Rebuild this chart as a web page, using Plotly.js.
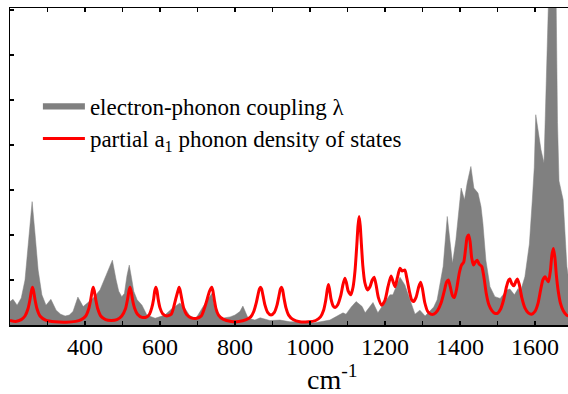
<!DOCTYPE html>
<html>
<head>
<meta charset="utf-8">
<script src="https://cdn.plot.ly/plotly-3.0.1.min.js"></script>
<style>html,body{margin:0;padding:0;background:#fff}#chart{width:568px;height:394px}</style>
</head>
<body>
<div id="chart"></div>
<script>
// Electron-phonon coupling (grey filled area), wavenumber in cm^-1
const couplingX = [200,208,219,230,240,251,259,267,275,285,296,309,323,335,347,358,368,381,395,408,422,440,458,473,483,490,498,505,512,518,524,530,539,552,565,587,613,630,653,668,680,696,715,728,738,747,765,787,800,813,821,835,853,867,893,920,947,973,1013,1053,1080,1088,1096,1110,1123,1139,1147,1158,1168,1181,1200,1213,1221,1232,1240,1253,1267,1280,1293,1307,1315,1330,1339,1355,1366,1373,1380,1389,1403,1412,1419,1429,1437,1448,1456,1461,1469,1480,1493,1507,1525,1533,1545,1555,1560,1573,1585,1593,1598,1602,1610,1616,1624,1630,1636,1642,1650,1656,1660,1664,1675,1685,1690];
const couplingY = [0.52,0.57,0.44,0.6,1.0,2.0,2.74,2.0,1.22,0.67,0.44,0.57,0.33,0.24,0.2,0.22,0.3,0.62,0.41,0.5,0.6,0.78,1.15,1.44,1.0,0.75,0.63,0.7,1.1,1.33,1.05,0.75,0.56,0.44,0.22,0.15,0.22,0.35,0.49,0.35,0.2,0.15,0.41,0.56,0.7,0.33,0.15,0.18,0.22,0.3,0.42,0.15,0.11,0.16,0.1,0.11,0.07,0.07,0.05,0.11,0.24,0.27,0.24,0.4,0.52,0.41,0.27,0.4,0.5,0.27,0.52,0.67,0.67,0.9,1.06,0.89,0.56,0.24,0.33,0.2,0.27,0.4,0.56,1.3,2.41,1.82,1.37,1.89,3.04,2.78,3.15,3.52,3.04,2.93,2.63,2.26,1.44,0.85,0.63,0.59,0.78,0.8,0.67,0.81,0.71,1.07,1.8,2.8,3.5,4.67,4.2,3.89,3.6,5.5,7.5,9.0,9.0,7.5,4.5,3.2,2.78,1.3,1.0];

// Partial a1 phonon density of states (red line)
const dosX = [200,215,230,240,248,253,257,260,263,267,272,280,295,320,350,375,390,402,410,415,419,422,425,429,434,442,455,470,485,498,508,513,517,520,523,527,532,540,552,565,572,578,583,586,589,592,595,600,607,618,630,636,642,648,651,654,658,663,671,683,698,710,718,725,732,738,741,745,749,756,768,790,810,830,842,850,857,861,865,868,871,875,880,887,896,905,912,917,921,924,927,931,936,943,955,973,995,1015,1028,1036,1042,1046,1049,1052,1056,1062,1067,1074,1082,1088,1093,1097,1102,1109,1115,1120,1125,1128,1131,1134,1137,1141,1146,1153,1160,1166,1171,1176,1182,1191,1200,1208,1216,1222,1227,1233,1240,1246,1253,1258,1265,1271,1276,1283,1290,1295,1300,1306,1314,1322,1330,1340,1350,1358,1364,1369,1374,1380,1385,1391,1398,1404,1410,1415,1419,1423,1427,1431,1436,1441,1446,1451,1458,1464,1470,1477,1485,1493,1500,1508,1516,1524,1530,1533,1538,1544,1549,1553,1558,1565,1573,1582,1591,1600,1608,1615,1621,1627,1632,1636,1641,1645,1649,1653,1657,1662,1668,1675,1684,1690];
const dosY = [0.10,0.08,0.12,0.2,0.36,0.55,0.75,0.84,0.75,0.55,0.36,0.2,0.11,0.07,0.06,0.08,0.12,0.2,0.36,0.55,0.75,0.84,0.75,0.55,0.36,0.2,0.12,0.1,0.12,0.2,0.36,0.55,0.75,0.84,0.75,0.55,0.38,0.24,0.17,0.18,0.24,0.38,0.58,0.76,0.84,0.76,0.58,0.38,0.25,0.2,0.24,0.38,0.58,0.76,0.84,0.76,0.58,0.38,0.23,0.16,0.15,0.2,0.36,0.55,0.75,0.84,0.76,0.55,0.37,0.22,0.13,0.08,0.08,0.12,0.18,0.3,0.5,0.66,0.8,0.84,0.8,0.64,0.44,0.28,0.22,0.28,0.44,0.64,0.8,0.84,0.78,0.58,0.38,0.22,0.12,0.07,0.07,0.1,0.18,0.32,0.55,0.78,0.9,0.8,0.58,0.42,0.39,0.45,0.65,0.9,1.04,0.94,0.75,0.67,0.85,1.2,1.8,2.2,2.41,2.2,1.8,1.3,0.95,0.78,0.85,1.0,1.06,0.9,0.62,0.44,0.55,0.85,1.09,0.95,0.85,1.05,1.26,1.2,1.22,1.05,0.75,0.56,0.52,0.62,0.85,0.95,0.8,0.5,0.3,0.24,0.24,0.32,0.5,0.75,0.95,1.0,0.85,0.65,0.61,0.8,1.15,1.33,1.4,1.7,1.95,2.0,1.85,1.5,1.33,1.4,1.44,1.35,1.3,1.05,0.7,0.45,0.32,0.26,0.26,0.35,0.55,0.85,1.0,1.02,0.92,0.87,0.97,1.02,0.9,0.6,0.38,0.27,0.24,0.3,0.48,0.78,1.0,1.07,1.0,0.96,1.2,1.55,1.7,1.5,1.1,0.75,0.48,0.32,0.22,0.2];

const xTickVals = [400,600,800,1000,1200,1400,1600];
const xTickText = ['400','600','800','1000','1200','1400','1600'];
const xMinorTickVals = [300,500,700,900,1100,1300,1500];
const yTickVals = [1,2,3,4,5,6,7];
const seriesNames = ['electron-phonon coupling \u03bb', 'partial a<sub>1</sub> phonon density of states'];
const axisTitle = 'cm<sup>-1</sup>';

const traces = [
  {x: couplingX, y: couplingY, type: 'scatter', mode: 'lines', fill: 'tozeroy',
   line: {color: '#808080', width: 0.5}, fillcolor: '#808080', name: seriesNames[0]},
  {x: dosX, y: dosY, type: 'scatter', mode: 'lines',
   line: {color: '#ff0000', width: 3, shape: 'spline', smoothing: 0.6}, name: seriesNames[1]}
];

const layout = {
  width: 568, height: 394,
  margin: {l: 10, r: 0, t: 8, b: 69},
  paper_bgcolor: '#ffffff', plot_bgcolor: '#ffffff',
  showlegend: true,
  legend: {x: 0.05, y: 0.76, xanchor: 'left', yanchor: 'top', bgcolor: 'rgba(0,0,0,0)',
           font: {family: 'Times New Roman', size: 23, color: '#000000'}, itemwidth: 42, tracegroupgap: 0},
  xaxis: {range: [200, 1688], showgrid: false, zeroline: false,
          showline: true, linecolor: '#000000', linewidth: 1.5, mirror: 'ticks',
          ticks: 'inside', ticklen: 4, tickwidth: 1.5, tickcolor: '#000000',
          tickvals: xTickVals, ticktext: xTickText,
          tickfont: {family: 'Times New Roman', size: 24, color: '#000000'},
          minor: {tickvals: xMinorTickVals, ticks: 'inside', ticklen: 4, tickwidth: 1.5, tickcolor: '#000000'}},
  yaxis: {range: [0, 7.04], showgrid: false, zeroline: false,
          showline: true, linecolor: '#000000', linewidth: 1.5, mirror: false,
          ticks: 'inside', ticklen: 4, tickwidth: 1.5, tickcolor: '#000000',
          tickvals: yTickVals, showticklabels: false},
  annotations: [
    {text: axisTitle, xref: 'x', yref: 'paper', x: 1061, y: -0.167, xanchor: 'center', yanchor: 'middle',
     showarrow: false, font: {family: 'Times New Roman', size: 28, color: '#000000'}}
  ]
};

Plotly.newPlot('chart', traces, layout, {displayModeBar: false, staticPlot: true});
</script>
</body>
</html>
